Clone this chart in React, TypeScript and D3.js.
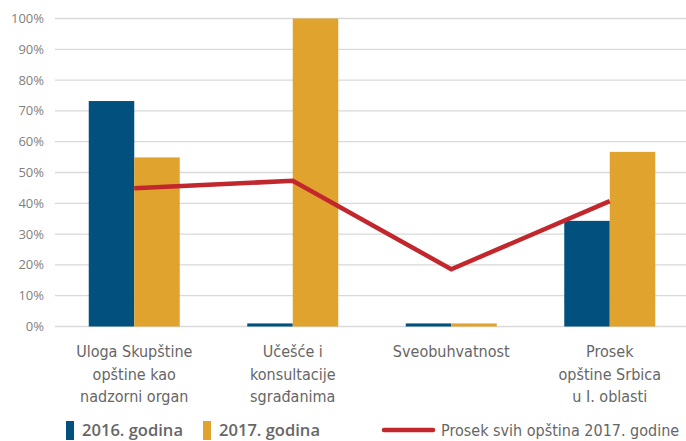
import { useEffect, useRef } from "react";
import * as d3 from "d3";

const categories = [
  ["Uloga Skupštine", "opštine kao", "nadzorni organ"],
  ["Učešće i", "konsultacije", "sgrađanima"],
  ["Sveobuhvatnost"],
  ["Prosek", "opštine Srbica", "u I. oblasti"],
];
const series = ["2016. godina", "2017. godina"];
const values2016 = [73.2, 1, 1, 34.3];
const values2017 = [54.9, 100, 1, 56.7];
const averageAll = [44.9, 47.3, 18.6, 40.7];
const lineLabel = "Prosek svih opština 2017. godine";
const yTicks = [0, 10, 20, 30, 40, 50, 60, 70, 80, 90, 100];

const colors = ["#01507e", "#e0a32e"];
const lineColor = "#c1272d";
const narrow = "'Liberation Sans Narrow', 'DejaVu Sans Condensed', 'Open Sans', sans-serif";

export default function App() {
  const svgRef = useRef<SVGSVGElement>(null);

  useEffect(() => {
    if (!svgRef.current) return;
    const svg = d3.select(svgRef.current);
    svg.selectAll("*").remove();

    const width = 686;
    const height = 441;
    const left = 55;
    const right = 689;
    const top = 18.5;
    const bottom = 326.5;

    const keys = categories.map((c) => c.join(" "));
    const x0 = d3.scaleBand<string>().domain(keys).range([left, right]);
    const bw = x0.bandwidth();
    const x1 = d3
      .scaleBand<string>()
      .domain(series)
      .range([bw / 2 - 45.5, bw / 2 + 45.5]);
    const y = d3.scaleLinear().domain([0, 100]).range([bottom, top]);

    // gridlines
    svg
      .append("g")
      .selectAll("line")
      .data(yTicks)
      .join("line")
      .attr("x1", left)
      .attr("x2", width)
      .attr("y1", (d) => y(d))
      .attr("y2", (d) => y(d))
      .attr("stroke", "#d9d9d9")
      .attr("stroke-width", 1.3);

    // y labels
    svg
      .append("g")
      .selectAll("text")
      .data(yTicks)
      .join("text")
      .attr("x", 44)
      .attr("y", (d) => y(d))
      .attr("dy", "0.35em")
      .attr("text-anchor", "end")
      .attr("fill", "#7f7f7f")
      .attr("font-family", "'Open Sans', sans-serif")
      .attr("font-size", 13)
      .text((d) => `${d}%`);

    // bars
    const allSeries = [values2016, values2017];
    allSeries.forEach((vals, si) => {
      svg
        .append("g")
        .selectAll("rect")
        .data(vals)
        .join("rect")
        .attr("x", (_, i) => (x0(keys[i]) ?? 0) + (x1(series[si]) ?? 0))
        .attr("y", (d) => y(d))
        .attr("width", x1.bandwidth())
        .attr("height", (d) => bottom - y(d))
        .attr("fill", colors[si]);
    });

    // average line
    const line = d3
      .line<number>()
      .x((_, i) => (x0(keys[i]) ?? 0) + bw / 2)
      .y((d) => y(d));
    svg
      .append("path")
      .datum(averageAll)
      .attr("fill", "none")
      .attr("stroke", lineColor)
      .attr("stroke-width", 4.5)
      .attr("stroke-linejoin", "miter")
      .attr("d", line);

    // category labels
    categories.forEach((lines, i) => {
      const t = svg
        .append("text")
        .attr("x", (x0(keys[i]) ?? 0) + bw / 2)
        .attr("y", 357)
        .attr("text-anchor", "middle")
        .attr("fill", "#666666")
        .attr("font-family", narrow)
        .attr("font-size", 16);
      lines.forEach((l, j) => {
        t.append("tspan")
          .attr("x", (x0(keys[i]) ?? 0) + bw / 2)
          .attr("dy", j === 0 ? 0 : 22.5)
          .text(l);
      });
    });

    // legend
    const legendY = 430;
    const legendItems = [
      { x: 66, label: series[0], color: colors[0] },
      { x: 203, label: series[1], color: colors[1] },
    ];
    legendItems.forEach((it) => {
      svg
        .append("rect")
        .attr("x", it.x)
        .attr("y", legendY - 9)
        .attr("width", 8)
        .attr("height", 19)
        .attr("fill", it.color);
      svg
        .append("text")
        .attr("x", it.x + 16)
        .attr("y", legendY)
        .attr("dy", "0.36em")
        .attr("fill", "#666666")
        .attr("font-family", "'Open Sans', sans-serif")
        .attr("font-weight", 600)
        .attr("font-size", 15.5)
        .attr("textLength", 101)
        .attr("lengthAdjust", "spacingAndGlyphs")
        .text(it.label);
    });
    svg
      .append("line")
      .attr("x1", 384)
      .attr("x2", 433)
      .attr("y1", legendY)
      .attr("y2", legendY)
      .attr("stroke", lineColor)
      .attr("stroke-width", 4.5)
      .attr("stroke-linecap", "round");
    svg
      .append("text")
      .attr("x", 441)
      .attr("y", legendY)
      .attr("dy", "0.35em")
      .attr("fill", "#666666")
      .attr("font-family", narrow)
      .attr("font-size", 16)
      .text(lineLabel);

    svg.attr("width", width).attr("height", height);
  }, []);

  return (
    <svg
      ref={svgRef}
      width={686}
      height={441}
      style={{ position: "absolute", left: 0, top: 0, background: "#fff" }}
    />
  );
}
